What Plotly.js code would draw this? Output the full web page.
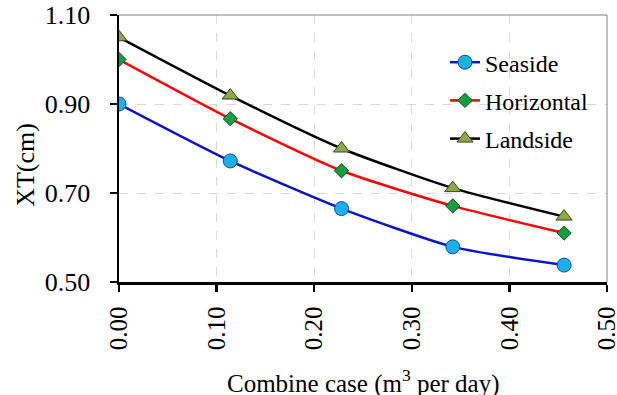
<!DOCTYPE html>
<html><head><meta charset="utf-8">
<script src="https://cdn.plot.ly/plotly-3.0.1.min.js"></script>
<style>html,body{margin:0;padding:0;background:#fff}#chart{width:617px;height:395px}</style>
</head><body><div id="chart"></div>
<script>
const xValues = [0.0, 0.114, 0.228, 0.342, 0.456];
const seaside = [0.90, 0.772, 0.665, 0.579, 0.538];
const horizontal = [1.00, 0.867, 0.750, 0.671, 0.610];
const landside = [1.05, 0.919, 0.800, 0.711, 0.647];
const seriesNames = ['Seaside', 'Horizontal', 'Landside'];
const xTicks = [0, 0.1, 0.2, 0.3, 0.4, 0.5];
const xTickText = ['0.00', '0.10', '0.20', '0.30', '0.40', '0.50'];
const yTicks = [0.5, 0.7, 0.9, 1.1];
const yTickText = ['0.50', '0.70', '0.90', '1.10'];
const xTitle = 'Combine case (m<sup>3</sup> per day)';
const yTitle = 'XT(cm)';

const font = '"Liberation Serif"';
const traces = [
  {x: xValues, y: seaside, name: seriesNames[0], legendgroup: 'a', mode: 'lines+markers', line: {color: '#0a14c8', width: 2.5, shape: 'spline', smoothing: 0.6},
   marker: {symbol: 'circle', size: 14, color: '#1ab0f0', line: {color: '#1a4a80', width: 1}}},
  {x: xValues, y: horizontal, name: seriesNames[1], legendgroup: 'b', mode: 'lines+markers', line: {color: '#ff0000', width: 2.5, shape: 'spline', smoothing: 0.6},
   marker: {symbol: 'diamond', size: 11, color: '#12a040', line: {color: '#0a5020', width: 1}}},
  {x: xValues, y: landside, name: seriesNames[2], legendgroup: 'c', mode: 'lines+markers', line: {color: '#000000', width: 2.5, shape: 'spline', smoothing: 0.6},
   marker: {symbol: 'triangle-up', size: 14, color: '#8aab44', line: {color: '#404020', width: 1}}}
];
const layout = {
  width: 617, height: 395,
  margin: {l: 119, r: 10, t: 15, b: 113},
  paper_bgcolor: '#fff', plot_bgcolor: '#fff',
  font: {family: font, size: 24, color: '#000'},
  showlegend: true,
  legend: {x: 0.668, y: 0.906, xanchor: 'left', yanchor: 'top', bgcolor: 'rgba(0,0,0,0)', font: {family: font, size: 24, color: '#000'}, tracegroupgap: 4},
  xaxis: {
    range: [0, 0.5], tickvals: xTicks, ticktext: xTickText, tickangle: -90,
    ticklabeloverflow: 'allow', ticklabelstandoff: 5,
    showgrid: true, gridcolor: '#d9d9d9', griddash: 'dash', gridwidth: 1,
    showline: true, linecolor: '#000', linewidth: 2.5,
    ticks: 'outside', ticklen: 7, tickwidth: 2.5, tickcolor: '#000',
    zeroline: false,
    tickfont: {family: font, size: 25, color: '#000'}
  },
  yaxis: {
    range: [0.5, 1.1], tickvals: yTicks, ticktext: yTickText,
    ticklabelstandoff: 14,
    showgrid: true, gridcolor: '#d9d9d9', griddash: 'dash', gridwidth: 1,
    showline: true, linecolor: '#000', linewidth: 2.5,
    ticks: 'outside', ticklen: 7, tickwidth: 2.5, tickcolor: '#000',
    zeroline: false,
    tickfont: {family: font, size: 26, color: '#000'}
  },
  annotations: [
    {text: xTitle, xref: 'paper', yref: 'paper', x: 0.5, y: -0.371, xanchor: 'center', yanchor: 'middle', showarrow: false, font: {family: font, size: 25, color: '#000'}},
    {text: yTitle, xref: 'paper', yref: 'paper', x: -0.193, y: 0.438, xanchor: 'center', yanchor: 'middle', textangle: -90, showarrow: false, font: {family: font, size: 26, color: '#000'}}
  ],
  shapes: [
    {type: 'line', xref: 'paper', yref: 'paper', x0: 0, x1: 1, y0: 1, y1: 1, line: {color: '#808080', width: 1}},
    {type: 'line', xref: 'paper', yref: 'paper', x0: 1, x1: 1, y0: 0, y1: 1, line: {color: '#808080', width: 1}}
  ]
};
Plotly.newPlot('chart', traces, layout, {displayModeBar: false, staticPlot: true});
</script></body></html>
